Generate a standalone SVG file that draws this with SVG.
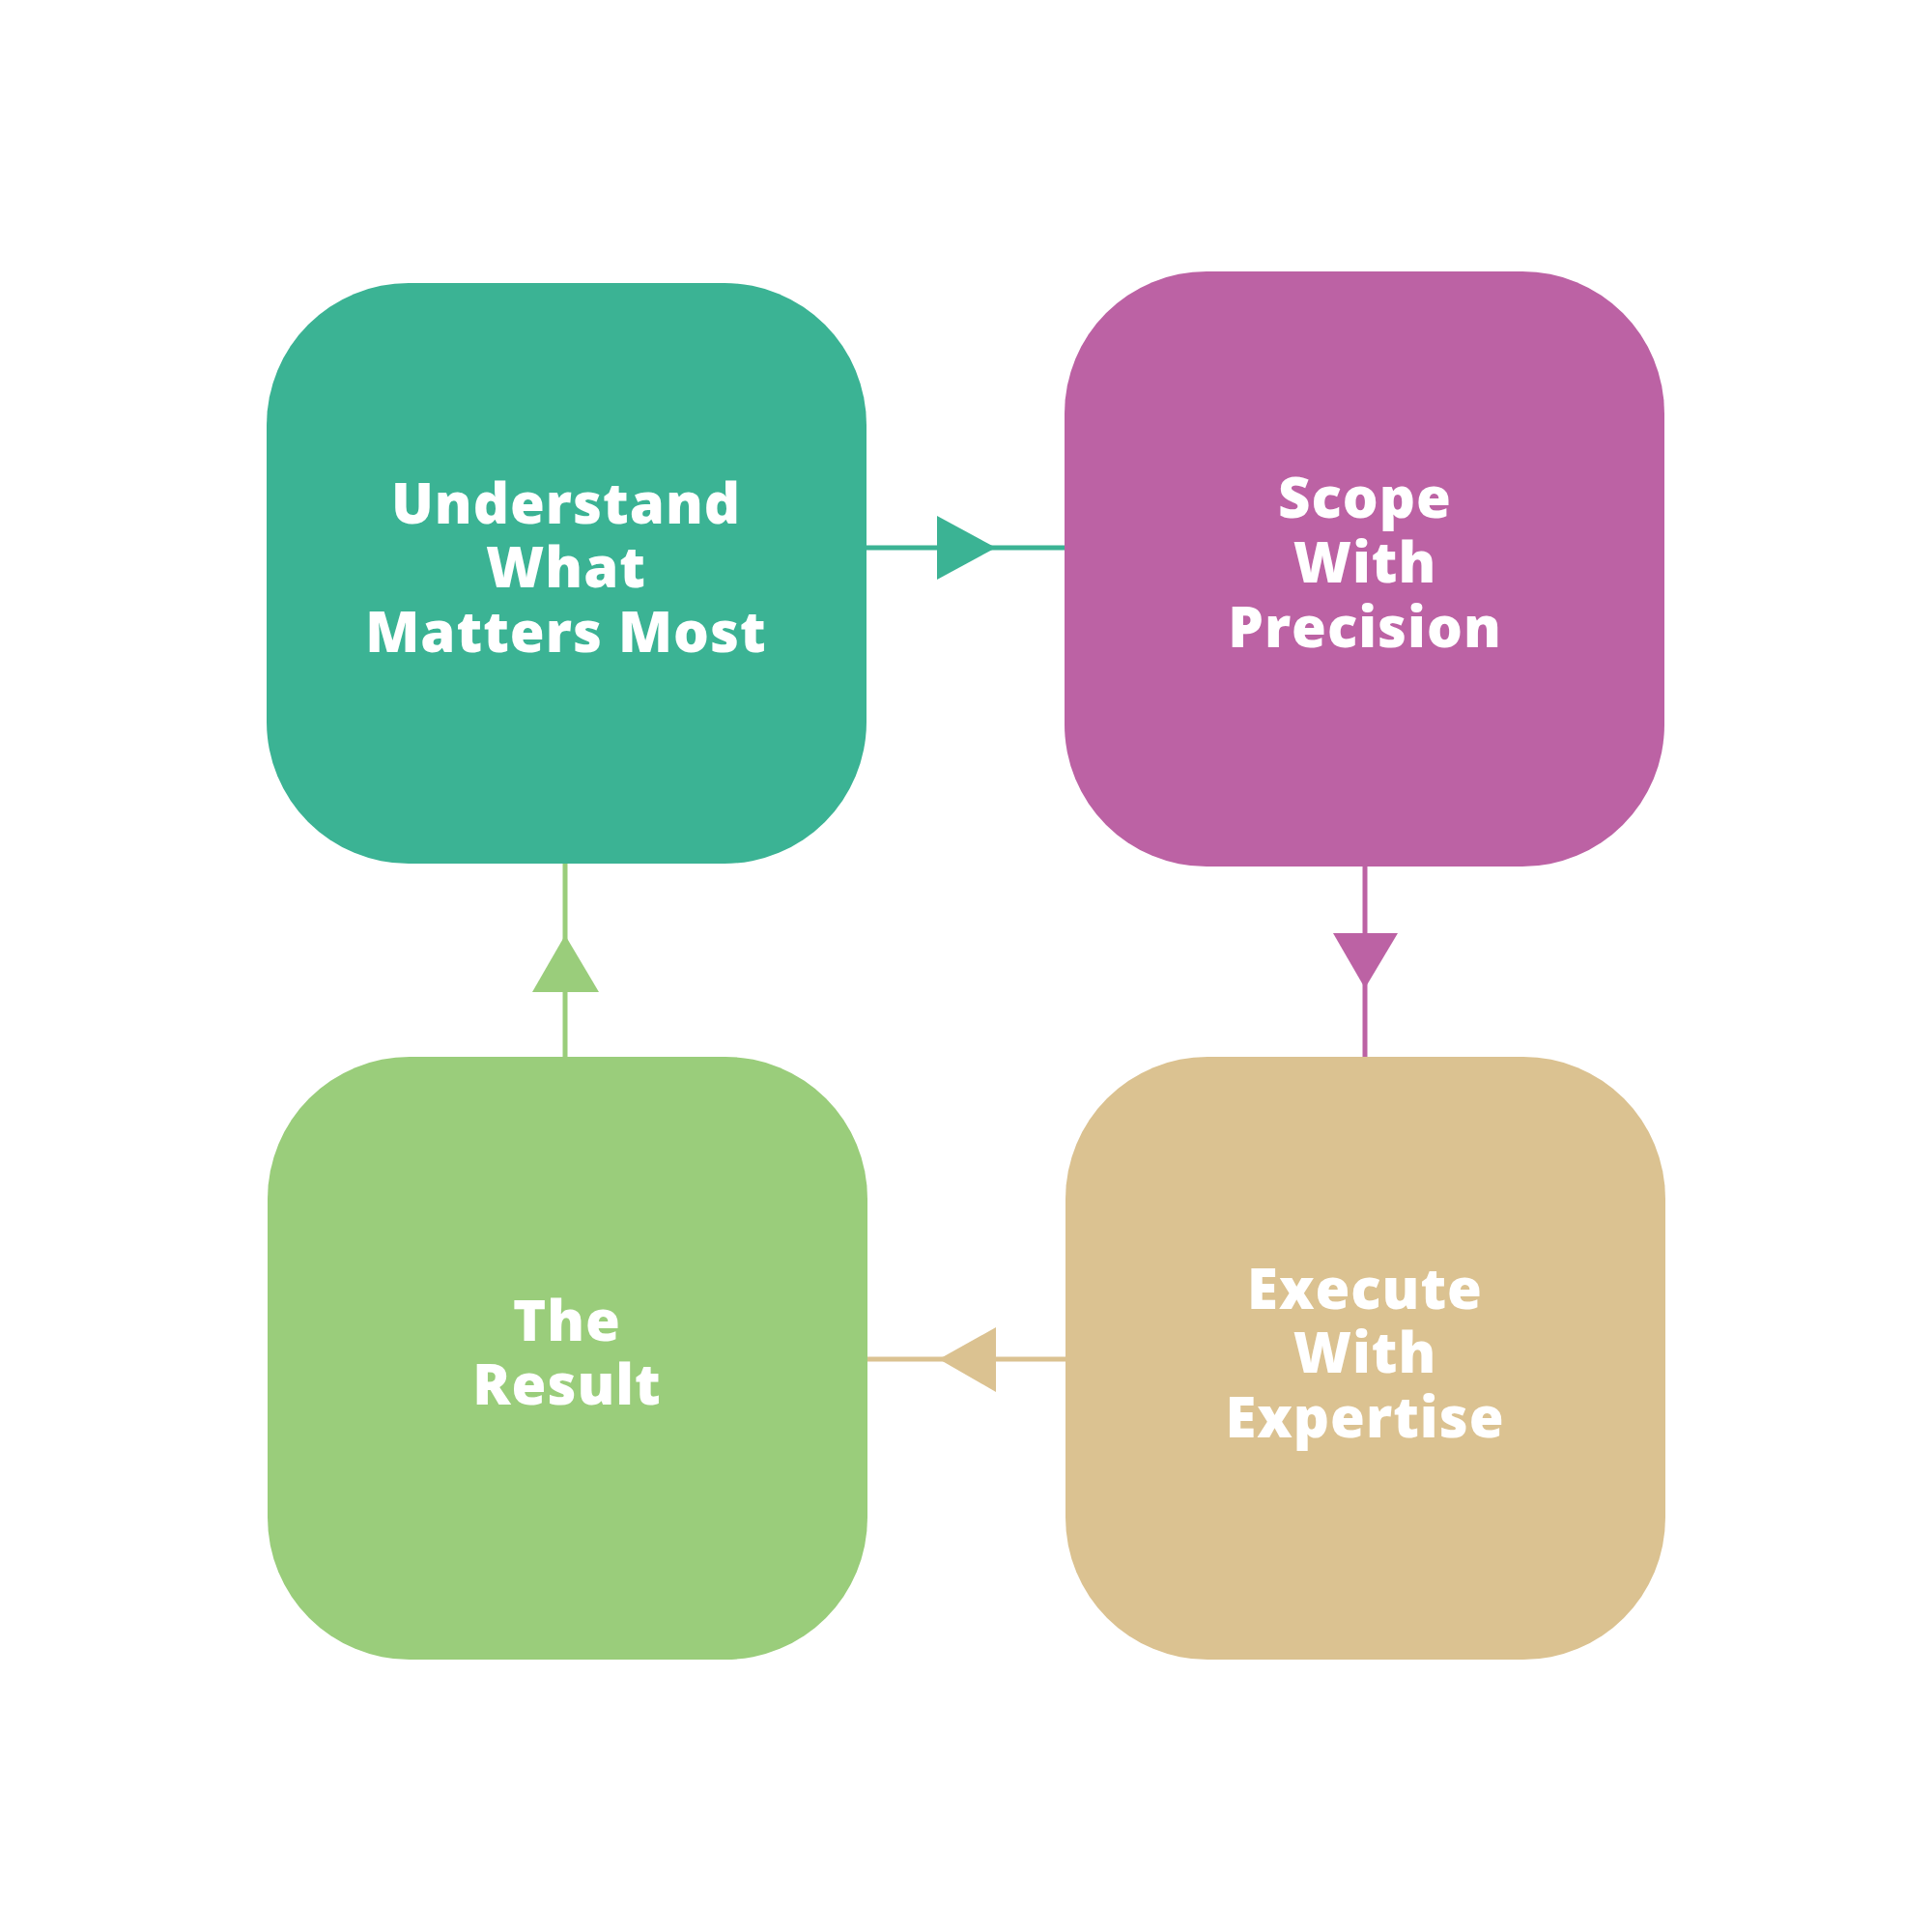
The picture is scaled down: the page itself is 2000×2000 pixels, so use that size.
<svg xmlns="http://www.w3.org/2000/svg" width="2000" height="2000" viewBox="0 0 2000 2000">
<style>
.t{font-family:"Open Sans","Liberation Sans",sans-serif;font-weight:800;font-size:58px;fill:#fff;text-anchor:middle;letter-spacing:1px}
</style>
<rect width="2000" height="2000" fill="#fff"/>
<g id="connectors" stroke-width="5">
<line x1="897" y1="567" x2="1102" y2="567" stroke="#3BB394"/>
<polygon points="970,534 1031,567 970,600" fill="#3BB394"/>
<line x1="1413" y1="897" x2="1413" y2="1094" stroke="#BC62A4"/>
<polygon points="1380,966 1447,966 1413,1023" fill="#BC62A4"/>
<line x1="1103" y1="1407" x2="898" y2="1407" stroke="#DBC291"/>
<polygon points="1031,1374 972,1407 1031,1441" fill="#DBC291"/>
<line x1="585" y1="1094" x2="585" y2="894" stroke="#9ACD7B"/>
<polygon points="551,1027 620,1027 585,968" fill="#9ACD7B"/>
</g>
<g id="n1"><rect x="276" y="293" width="621" height="601" rx="147" fill="#3BB394"/>
<text class="t" x="586" y="542">Understand</text><text class="t" x="586" y="608">What</text><text class="t" x="586" y="675">Matters Most</text></g>
<g id="n2"><rect x="1102" y="281" width="621" height="616" rx="147" fill="#BC62A4"/>
<text class="t" x="1413" y="536">Scope</text><text class="t" x="1413" y="603">With</text><text class="t" x="1413" y="670">Precision</text></g>
<g id="n3"><rect x="277" y="1094" width="621" height="624" rx="147" fill="#9ACD7B"/>
<text class="t" x="587" y="1388">The</text><text class="t" x="587" y="1454">Result</text></g>
<g id="n4"><rect x="1103" y="1094" width="621" height="624" rx="147" fill="#DBC291"/>
<text class="t" x="1413" y="1355">Execute</text><text class="t" x="1413" y="1421">With</text><text class="t" x="1413" y="1488">Expertise</text></g>
</svg>
